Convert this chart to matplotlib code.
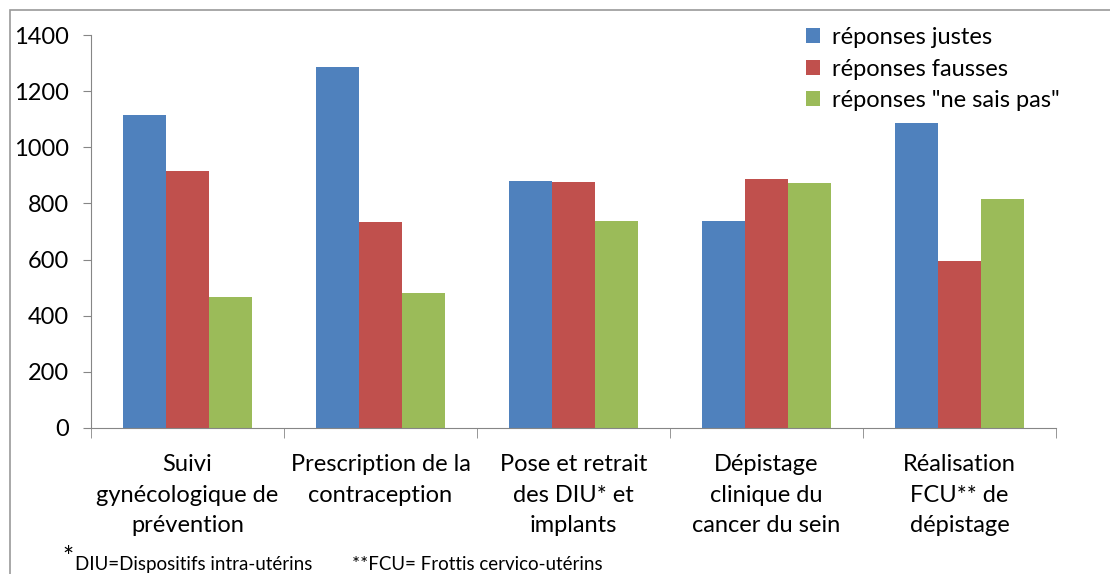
import matplotlib.pyplot as plt
import numpy as np
from matplotlib.patches import Rectangle

categories = ["Suivi\ngynécologique de\nprévention",
              "Prescription de la\ncontraception",
              "Pose et retrait\ndes DIU* et\nimplants",
              "Dépistage\nclinique du\ncancer du sein",
              "Réalisation\nFCU** de\ndépistage"]
series_names = ["réponses justes", "réponses fausses", 'réponses "ne sais pas"']
justes = [1115, 1286, 880, 737, 1087]
fausses = [916, 734, 878, 887, 595]
ne_sais_pas = [467, 481, 737, 873, 816]
colors = ["#4F81BD", "#C0504D", "#9BBB59"]

plt.rcParams['font.family'] = ['Lato', 'DejaVu Sans']

fig = plt.figure(figsize=(11.1, 5.74), dpi=100)
ax = fig.add_axes([91 / 1110, 1 - 428 / 574, (1056 - 91) / 1110, (428 - 35) / 574])

x = np.arange(len(categories))
w = 0.223
for i, (vals, name) in enumerate(zip([justes, fausses, ne_sais_pas], series_names)):
    ax.bar(x + (i - 1) * w, vals, width=w, color=colors[i], label=name)

ax.set_xlim(-0.5, len(categories) - 0.5)
ax.set_ylim(0, 1400)
ax.set_yticks(range(0, 1401, 200))
ax.set_xticks(x)
ax.set_xticklabels(categories, fontsize=17, linespacing=1.55)
ax.set_xticks(np.arange(-0.5, len(categories)), minor=True)
ax.tick_params(axis='x', which='major', length=0, pad=19)
ax.tick_params(axis='x', which='minor', length=7, color='#868686', direction='out')
ax.tick_params(axis='y', labelsize=17, length=6, color='#868686', direction='out', pad=10)
for s in ['top', 'right']:
    ax.spines[s].set_visible(False)
for s in ['left', 'bottom']:
    ax.spines[s].set_color('#868686')

leg = fig.legend(loc='upper left', bbox_to_anchor=(806 / 1110, 1 - 27 / 574), frameon=False,
                 fontsize=17, handlelength=0.6, handleheight=0.6, handletextpad=0.5,
                 labelspacing=0.45, borderaxespad=0, borderpad=0)

fig.patches.append(Rectangle((10 / 1110, -0.1), 1.2, 1 - 10 / 574 + 0.1,
                             transform=fig.transFigure, fill=False,
                             edgecolor='#9a9a9a', linewidth=1.2))

fig.text(62 / 1110, 1 - 546 / 574, "*", fontsize=19, va='top')
fig.text(75 / 1110, 1 - 570 / 574, "DIU=Dispositifs intra-utérins", fontsize=13.5, va='baseline')
fig.text(352 / 1110, 1 - 570 / 574, "**FCU= Frottis cervico-utérins", fontsize=13.5, va='baseline')

fig.savefig("out.png", dpi=100)
